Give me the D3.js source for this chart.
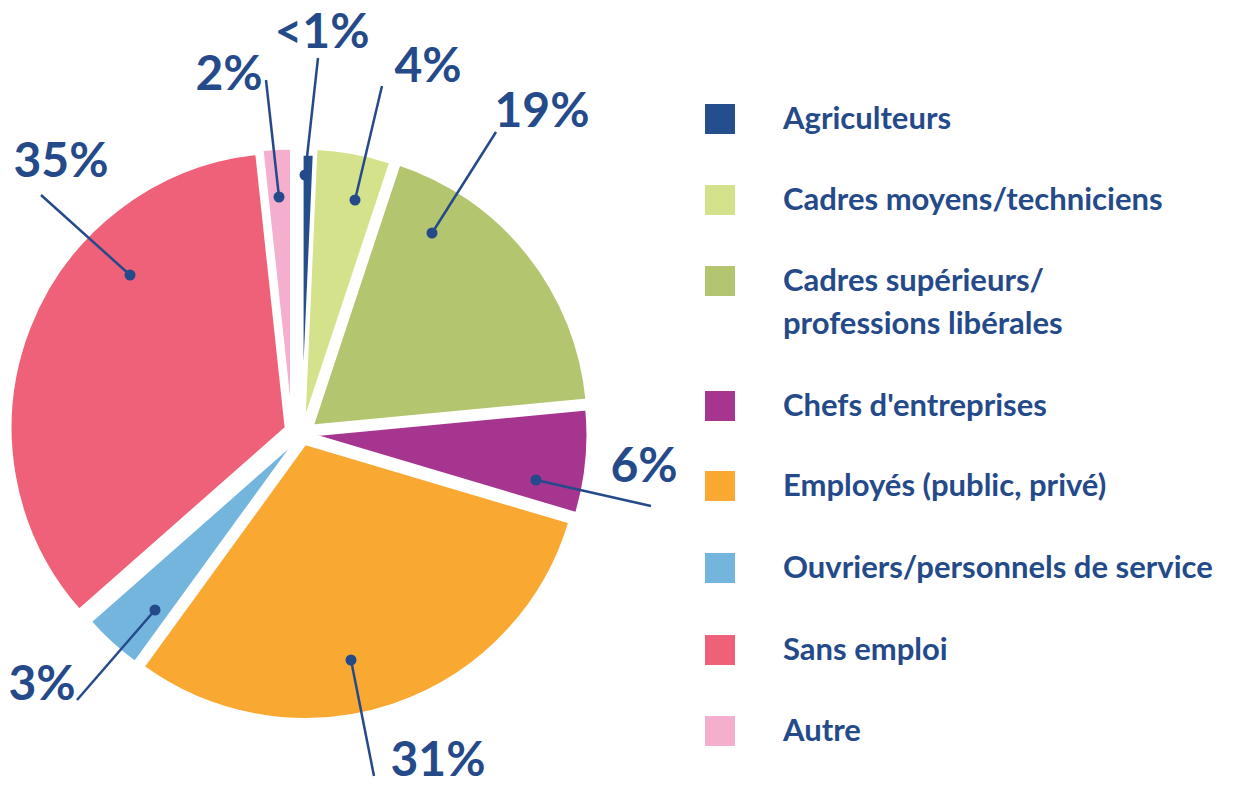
<!DOCTYPE html>
<html><head><meta charset="utf-8">
<script src="https://cdn.jsdelivr.net/npm/d3@7"></script>
<style>body{margin:0;background:#fff}svg{display:block}</style>
</head><body>
<svg id="chart" width="1244" height="785"></svg>
<script>
const categories = ["Agriculteurs","Cadres moyens/techniciens","Cadres supérieurs/\nprofessions libérales","Chefs d'entreprises","Employés (public, privé)","Ouvriers/personnels de service","Sans emploi","Autre"];
const values = [0.7, 4.4, 18.4, 6.1, 30.4, 3.5, 34.8, 1.7];
const labels = ["<1%","4%","19%","6%","31%","3%","35%","2%"];
const colors = ["#254E8C","#D4E28C","#B3C56F","#A5358F","#F9A832","#74B5DE","#EF6178","#F4AFCF"];
// radial explosion per slice, plus an extra sideways nudge
const explode = [4, 10, 13, 10, 10, 7, 17, 10];
const nudgeX = [0, 0, 0, 0, 0, 0, 0, -10];
// annotation geometry: label text anchor, leader-line end, and dot
const labelPos = [[322,48],[428,82],[542,127],[644,482],[438,776],[42,700],[61,177],[229,90]];
const lineEnd = [[318,58],[382,86],[496,132],[651,506],[374,776],[77,700],[41,195],[266,80]];
const dotPos = [[305,175],[355,200],[432,233],[536,480],[351,660],[155,610],[130,275],[279,197]];

const svg = d3.select("#chart");
const cx = 302, cy = 434, R = 276;
const textColor = "#254A8A";
const font = "Lato, 'Open Sans', sans-serif";

const pie = d3.pie().sort(null).value(d=>d)(values);
const arc = d3.arc().innerRadius(0).outerRadius(R);
const g = svg.append("g").attr("transform",`translate(${cx},${cy})`);

pie.forEach((p,i)=>{
  const mid = (p.startAngle+p.endAngle)/2;
  const ox = Math.sin(mid)*explode[i] + nudgeX[i], oy = -Math.cos(mid)*explode[i];
  g.append("path").attr("d",arc(p)).attr("fill",colors[i])
   .attr("stroke","#fff").attr("stroke-width",3).attr("stroke-linejoin","miter")
   .attr("transform",`translate(${ox},${oy})`);
});

pie.forEach((p,i)=>{
  const [dx,dy] = dotPos[i];
  svg.append("line").attr("x1",dx).attr("y1",dy).attr("x2",lineEnd[i][0]).attr("y2",lineEnd[i][1])
    .attr("stroke",textColor).attr("stroke-width",2.5);
  svg.append("circle").attr("cx",dx).attr("cy",dy).attr("r",5.5).attr("fill",textColor);
  svg.append("text").attr("x",labelPos[i][0]).attr("y",labelPos[i][1]).attr("text-anchor","middle")
    .attr("font-family",font).attr("font-weight",700).attr("font-size",48).attr("fill",textColor)
    .text(labels[i]);
});

const legendY = [119,200,281,406,486,568,650,731];
categories.forEach((c,i)=>{
  const y = legendY[i];
  svg.append("rect").attr("x",705).attr("y",y-15).attr("width",30).attr("height",30).attr("fill",colors[i]);
  const lines = c.split("\n");
  const t = svg.append("text").attr("x",783).attr("y",y+10)
    .attr("font-family",font).attr("font-weight",700).attr("font-size",31).attr("fill",textColor);
  lines.forEach((l,j)=>t.append("tspan").attr("x",783).attr("dy", j===0?0:43).text(l));
});
</script>
</body></html>
